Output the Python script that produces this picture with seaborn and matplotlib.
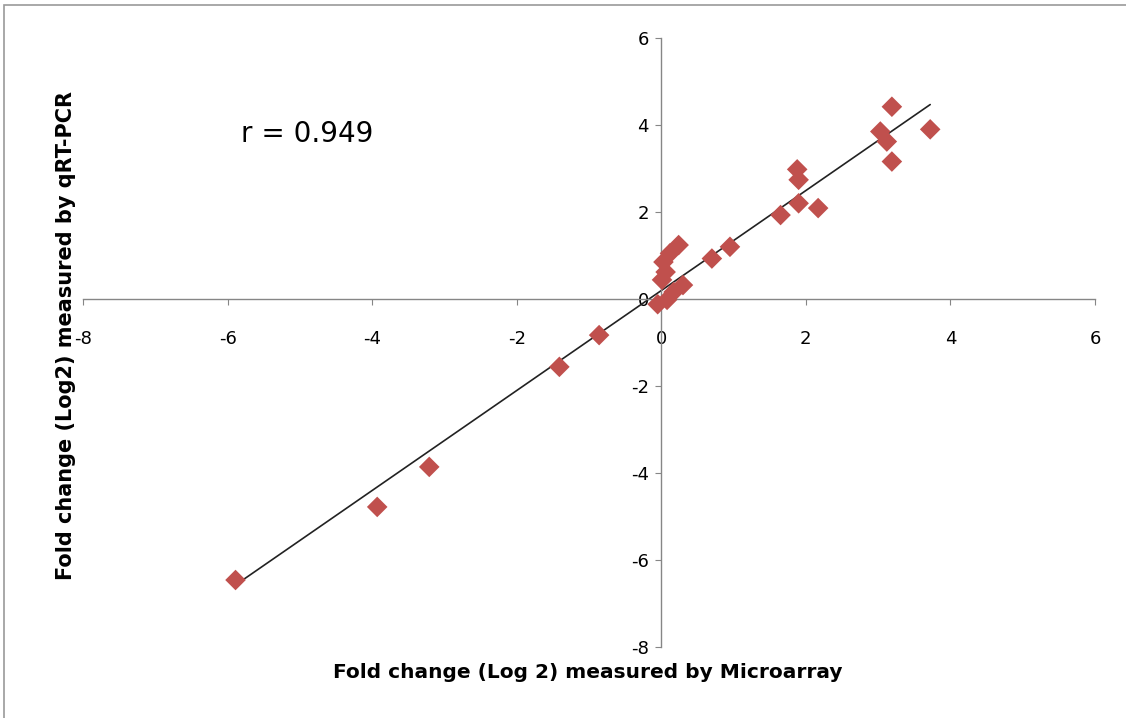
import numpy as np
import pandas as pd
import matplotlib
matplotlib.use('Agg')
import matplotlib.pyplot as plt
import seaborn as sns
from matplotlib.patches import Rectangle

# fold change values (log2)
microarray = [-5.89, -3.93, -3.21, -1.41, -0.86, -0.05, 0.08, 0.01, 0.06, 0.03,
              0.12, 0.24, 0.17, 0.30, 0.70, 0.95, 1.65, 1.88, 1.90, 1.90,
              2.17, 3.03, 3.12, 3.19, 3.19, 3.72]
qrt_pcr = [-6.46, -4.78, -3.86, -1.56, -0.83, -0.12, -0.02, 0.44, 0.62, 0.85,
           1.05, 1.24, 0.16, 0.32, 0.93, 1.20, 1.93, 2.98, 2.74, 2.20,
           2.09, 3.85, 3.62, 4.42, 3.16, 3.90]
ticks = [-8, -6, -4, -2, 0, 2, 4, 6]

df = pd.DataFrame({'Microarray': microarray, 'qRT-PCR': qrt_pcr})

sns.set_style('white')
plt.rcParams['font.family'] = ['DejaVu Sans']
plt.rcParams['axes.unicode_minus'] = False
plt.rcParams['text.color'] = 'black'
plt.rcParams['xtick.color'] = 'black'
plt.rcParams['ytick.color'] = 'black'

fig = plt.figure(figsize=(11.26, 7.18), dpi=100)
ax = fig.add_axes([83/1126, 1-647/718, (1095-83)/1126, (647-38)/718])

# trend line through the points, then the diamonds on top
sns.regplot(data=df, x='Microarray', y='qRT-PCR', scatter=False, ci=None,
            truncate=True, color='#222222', line_kws={'linewidth': 1.2}, ax=ax)
sns.scatterplot(data=df, x='Microarray', y='qRT-PCR', marker='D', s=110,
                color='#C0504D', edgecolor='none', ax=ax, zorder=3)

ax.set_xlim(-8, 6)
ax.set_ylim(-8, 6)
ax.set_xticks(ticks)
ax.set_yticks(ticks)
ax.set_xlabel('')
ax.set_ylabel('')

# axes cross at the origin
ax.spines['left'].set_position(('data', 0))
ax.spines['bottom'].set_position(('data', 0))
ax.spines['right'].set_visible(False)
ax.spines['top'].set_visible(False)
for s in ['left', 'bottom']:
    ax.spines[s].set_color('#868686')
    ax.spines[s].set_linewidth(1.0)

ax.tick_params(axis='x', direction='out', length=4, color='#868686',
               labelcolor='black', labelsize=13, pad=18, bottom=True)
ax.tick_params(axis='y', direction='out', length=4, color='#868686',
               labelcolor='black', labelsize=13, pad=5, left=True)

ax.text(-4.9, 3.8, 'r = 0.949', fontsize=20, ha='center', va='center')

fig.text(588/1126, 1-673/718, 'Fold change (Log 2) measured by Microarray',
         fontsize=14.5, fontweight='bold', ha='center', va='center')
fig.text(66/1126, 1-335/718, 'Fold change (Log2) measured by qRT-PCR',
         fontsize=15, fontweight='bold', ha='center', va='center', rotation=90)

# chart area border like the spreadsheet frame
fig.patches.append(Rectangle((4/1126, -0.1), 1.2, 1-5/718+0.1,
                             transform=fig.transFigure, fill=False,
                             edgecolor='#9a9a9a', linewidth=1.2))

fig.savefig('out.png', dpi=100)
